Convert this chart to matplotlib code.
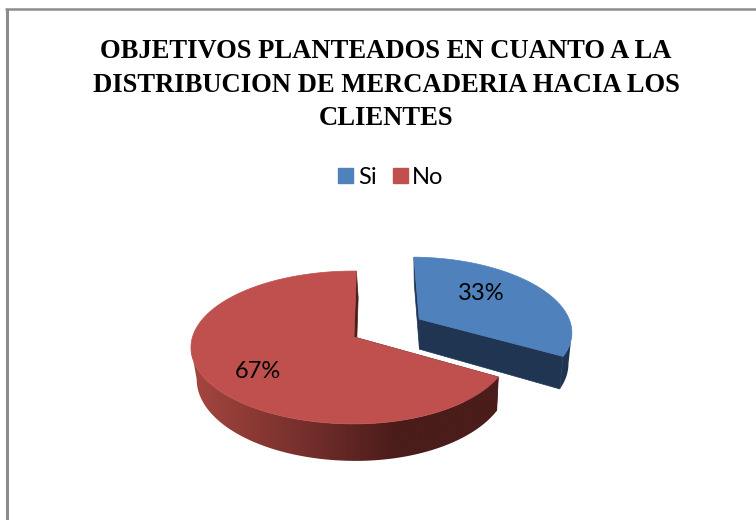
import numpy as np
import matplotlib
matplotlib.use('Agg')
import matplotlib.pyplot as plt
from matplotlib.patches import Polygon, Patch
from matplotlib.colors import LinearSegmentedColormap

# data
categories = ['Si', 'No']
values = [33, 67]
colors = ['#4F81BD', '#C0504D']
title_lines = ['OBJETIVOS PLANTEADOS EN CUANTO A LA',
               'DISTRIBUCION DE MERCADERIA HACIA LOS',
               'CLIENTES']

# pie layout, axes are in pixels with y pointing down
cx, cy = 354, 337
rx_left, rx_right, ry = 161.5, 155, 75
tilt = 0.137
start_angle = 89
explode = 0.5

fig = plt.figure(figsize=(7.56, 5.2), dpi=100)
ax = fig.add_axes([0, 0, 1, 1])


def top_xy(u, v):
    w = 1 + tilt * v
    return cx + np.where(u > 0, rx_right, rx_left) * u / w, cy - ry * v / w


def bottom_xy(x, y):
    # the lower rim shrinks a bit and sits deeper towards the viewer
    return x - 0.024 * (x - 430), y + 30 + 0.066 * (y - 318)


def wall(p, q, color, z):
    bp = bottom_xy(*p)
    bq = bottom_xy(*q)
    ax.add_patch(Polygon([p, q, bq, bp], closed=True, fc=color, ec=color, lw=0.5, zorder=z))


def draw_slice(a0, a1, offset, color, rim_colors, side, z):
    # a0 > a1, clockwise from a0 to a1, in degrees
    ox = offset * np.cos(np.radians((a0 + a1) / 2))
    oy = offset * np.sin(np.radians((a0 + a1) / 2))
    ang = np.radians(np.linspace(a0, a1, 360))
    xs, ys = top_xy(np.cos(ang) + ox, np.sin(ang) + oy)
    apex = top_xy(ox, oy)
    apex = (float(apex[0]), float(apex[1]))

    # straight cut faces
    wall(apex, (xs[0], ys[0]), rim_colors[-1], z)
    wall(apex, (xs[-1], ys[-1]), rim_colors[-1], z)

    # outer rim runs between the slice corner and the silhouette point of each arc
    bx, by = bottom_xy(xs, ys)
    if side == 'left':
        tx, ty = xs[:np.argmin(xs) + 1], ys[:np.argmin(xs) + 1]
        lx, ly = bx[:np.argmin(bx) + 1], by[:np.argmin(bx) + 1]
    else:
        tx, ty = xs[np.argmax(xs):], ys[np.argmax(xs):]
        lx, ly = bx[np.argmax(bx):], by[np.argmax(bx):]
    rim = Polygon(np.column_stack([np.r_[tx, lx[::-1]], np.r_[ty, ly[::-1]]]),
                  closed=True, fc='none', ec='none', zorder=z)
    ax.add_patch(rim)
    cmap = LinearSegmentedColormap.from_list('rim', rim_colors)
    img = ax.imshow(np.linspace(0, 1, 256).reshape(1, -1), cmap=cmap, aspect='auto',
                    extent=(min(tx.min(), lx.min()), max(tx.max(), lx.max()),
                            max(ly.max(), ty.max()), min(ty.min(), ly.min())), zorder=z)
    img.set_clip_path(rim)

    pts = np.column_stack([np.r_[apex[0], xs], np.r_[apex[1], ys]])
    ax.add_patch(Polygon(pts, closed=True, fc=color, ec=color, lw=0.5, zorder=z + 1))


# slices run clockwise, first one starts near the top
total = sum(values)
split = start_angle - 360 * values[0] / total
draw_slice(start_angle, split, explode, colors[0], ['#1F3552', '#1F3552'], 'right', 2)
draw_slice(split, start_angle - 360, 0, colors[1], ['#A5463F', '#7A312E', '#4A1C1A', '#4A1C1A'], 'left', 4)

ax.set_xlim(0, 756)
ax.set_ylim(520, 0)
ax.axis('off')

# chart border, open on the right and at the bottom
ax.plot([6.5, 6.5], [520, 9], color='#8C8C8C', lw=2.2, solid_capstyle='butt', zorder=1)
ax.plot([5, 756], [9, 9], color='#8C8C8C', lw=1.8, solid_capstyle='butt', zorder=1)

for line, y in zip(title_lines, [58, 92, 125]):
    ax.text(386, y, line, ha='center', va='baseline', family='Liberation Serif',
            weight='bold', fontsize=19.2, color='black')

ax.text(481, 294, f'{values[0]}%', ha='center', va='center', family='Lato', fontsize=17, zorder=8)
ax.text(258, 372, f'{values[1]}%', ha='center', va='center', family='Lato', fontsize=17, zorder=8)

handles = [Patch(fc=c, ec=c, label=n) for c, n in zip(colors, categories)]
ax.legend(handles=handles, ncol=2, frameon=False, loc='center',
          bbox_to_anchor=(391, 177), bbox_transform=ax.transData,
          prop={'family': 'Lato', 'size': 17},
          handlelength=0.62, handleheight=0.62, handletextpad=0.2, columnspacing=0.7)

fig.savefig('out.png', dpi=100)
